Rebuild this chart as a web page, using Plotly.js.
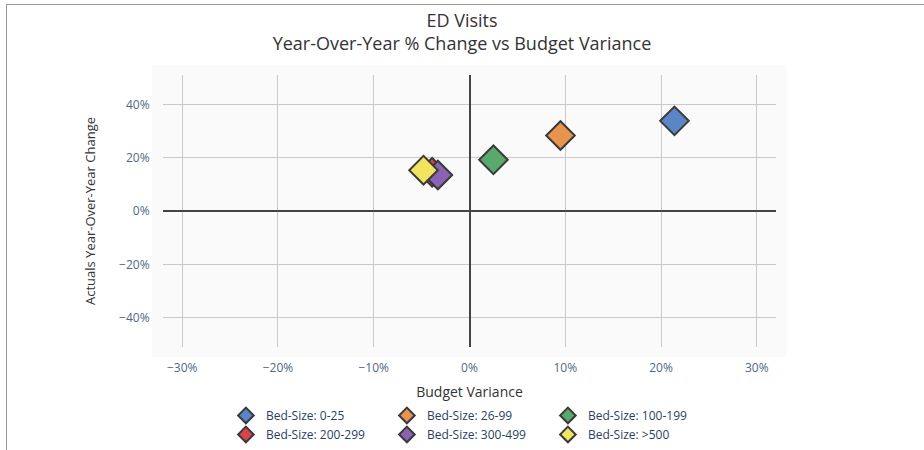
<!DOCTYPE html>
<html>
<head>
<meta charset="utf-8">
<script src="https://cdn.plot.ly/plotly-3.0.1.min.js"></script>
<style>
  html, body { margin: 0; padding: 0; background: #fff; }
  #wrap { position: relative; width: 924px; height: 450px; overflow: hidden; }
  #chart { position: absolute; left: 0; top: 0; width: 924px; height: 450px; }
  #frame { position: absolute; left: 6px; top: 4px; width: 930px; height: 460px;
           border-top: 1px solid #9a9a92; border-left: 1px solid #9a9a92; pointer-events: none; }
</style>
</head>
<body>
<div id="wrap">
  <div id="chart"></div>
  <div id="frame"></div>
</div>
<script>
// Data (fractions; shown as %)
const seriesNames = ["Bed-Size: 0-25", "Bed-Size: 26-99", "Bed-Size: 100-199",
                     "Bed-Size: 200-299", "Bed-Size: 300-499", "Bed-Size: >500"];
const budgetVariance = [0.214, 0.095, 0.025, -0.039, -0.033, -0.048];
const yoyChange      = [0.338, 0.283, 0.192, 0.145, 0.135, 0.153];
const seriesColors = ["#5a85c6", "#e8944f", "#5aa96c", "#d9444c", "#8a64b3", "#f2e45e"];

const traces = seriesNames.map((name, i) => ({
  type: "scatter",
  mode: "markers",
  name: name,
  x: [budgetVariance[i]],
  y: [yoyChange[i]],
  marker: {
    symbol: "diamond",
    size: 22,
    color: seriesColors[i],
    line: { color: "#3a3a3a", width: 2 }
  }
}));

const layout = {
  width: 924,
  height: 450,
  paper_bgcolor: "#ffffff",
  plot_bgcolor: "rgba(0,0,0,0)",
  font: { family: "'Open Sans', sans-serif", color: "#506784", size: 12 },
  margin: { l: 163, r: 148, t: 75, b: 103, pad: 0, autoexpand: false },
  title: {
    text: "ED Visits<br>Year-Over-Year % Change vs Budget Variance",
    font: { family: "'Open Sans', sans-serif", size: 18, color: "#333333" },
    x: 0.5, xanchor: "center", xref: "container",
    y: 0.94, yanchor: "top", yref: "container"
  },
  xaxis: {
    range: [-0.32, 0.32],
    dtick: 0.1,
    tickformat: ".0%",
    showgrid: true,
    gridcolor: "#c9c9c9",
    gridwidth: 1,
    zeroline: true,
    zerolinecolor: "#444444",
    zerolinewidth: 2,
    showline: false,
    automargin: true,
    ticks: "outside",
    ticklen: 10,
    tickcolor: "rgba(0,0,0,0)",
    tickfont: { size: 12, color: "#506784" },
    title: { text: "Budget Variance", font: { size: 14, color: "#333333" }, standoff: 12 }
  },
  yaxis: {
    range: [-0.51, 0.51],
    dtick: 0.2,
    tickformat: ".0%",
    showgrid: true,
    gridcolor: "#c9c9c9",
    gridwidth: 1,
    zeroline: true,
    zerolinecolor: "#444444",
    zerolinewidth: 2,
    showline: false,
    ticks: "outside",
    ticklen: 10,
    tickcolor: "rgba(0,0,0,0)",
    tickfont: { size: 12, color: "#506784" },
    title: { text: "Actuals Year-Over-Year Change", font: { size: 13, color: "#333333" }, standoff: 20 }
  },
  shapes: [{
    type: "rect", xref: "paper", yref: "paper",
    x0: -0.018, x1: 1.017, y0: -0.037, y1: 1.037,
    fillcolor: "#fafafa", line: { width: 0 }, layer: "below"
  }],
  showlegend: true,
  legend: {
    orientation: "h",
    x: 0.4966, xanchor: "center",
    y: 0.109, yanchor: "top", yref: "container",
    entrywidth: 116,
    itemsizing: "constant",
    font: { size: 12, color: "#2a3f5f" },
    traceorder: "normal",
    bgcolor: "rgba(0,0,0,0)"
  }
};

Plotly.newPlot("chart", traces, layout, { displayModeBar: false, staticPlot: true });
</script>
</body>
</html>
